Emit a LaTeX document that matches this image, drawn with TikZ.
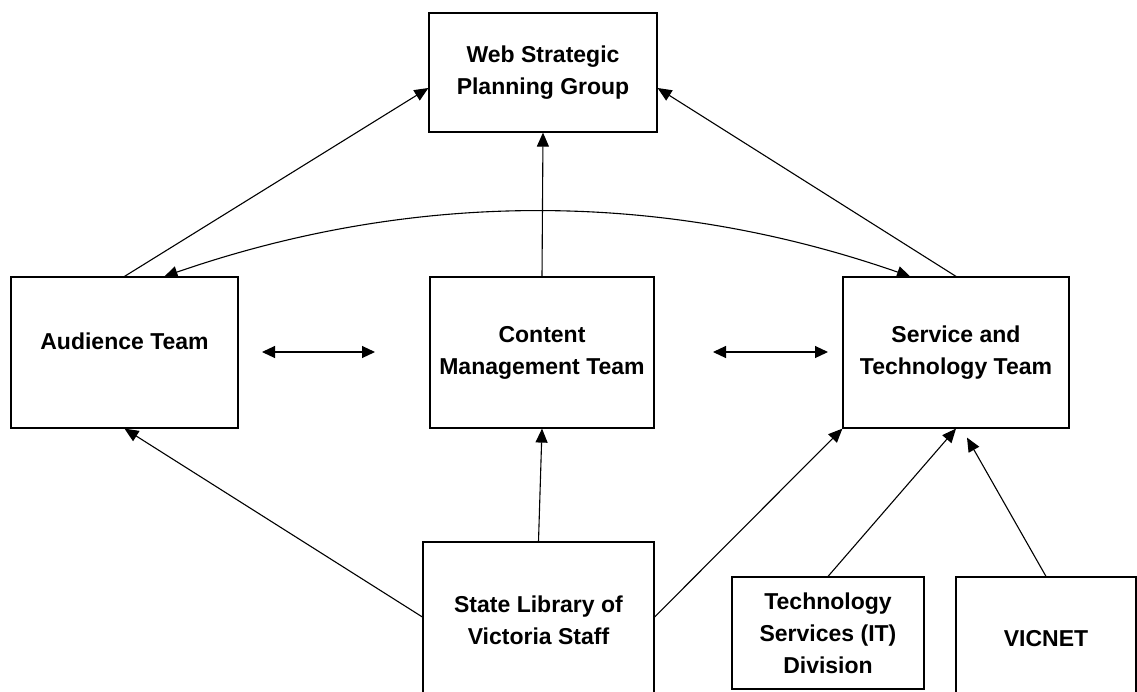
\documentclass[tikz,border=0pt]{standalone}
\usepackage{fontspec}
\setmainfont{Liberation Sans}
\usetikzlibrary{arrows.meta}
\begin{document}
\begin{tikzpicture}[x=1pt,y=-1pt,
  box/.style={draw, line width=1.2pt, rectangle, inner sep=0pt, align=center,
    font=\bfseries\fontsize{23}{32}\selectfont},
  conn/.style={line width=1.1pt, -{Triangle[length=14pt,width=12pt]}},
  biconn/.style={line width=1.1pt, {Triangle[length=13pt,width=12pt]}-{Triangle[length=13pt,width=12pt]}}]
\useasboundingbox (0,0) rectangle (1137,691);
\node[box, minimum width=228pt, minimum height=119pt] (web) at (543,72.5) {Web Strategic\\Planning Group};
\node[box, minimum width=227pt, minimum height=151pt, text depth=22pt] (aud) at (124.5,352.5) {Audience Team};
\node[box, minimum width=224pt, minimum height=151pt] (cmt) at (542,352.5) {Content\\Management Team};
\node[box, minimum width=226pt, minimum height=151pt] (srv) at (956,352.5) {Service and\\Technology Team};
\node[box, minimum width=231pt, minimum height=156pt] (sl) at (538.5,620) {State Library of\\Victoria Staff};
\node[box, minimum width=192pt, minimum height=112pt] (tech) at (828,633) {Technology\\Services (IT)\\Division};
\node[box, minimum width=180pt, minimum height=123pt] (vic) at (1046,638.5) {VICNET};
% free ends of the two double arrows
\coordinate (d1a) at (262,352);
\coordinate (d1b) at (375,352);
\coordinate (d2a) at (713,352);
\coordinate (d2b) at (828,352);
% connectors
\draw[conn] (aud.north) -- ([yshift=-15.5pt]web.west);
\draw[conn] (srv.north) -- ([yshift=-15.5pt]web.east);
\draw[conn] (cmt.north) -- (web.south);
\draw[biconn] ([xshift=40pt]aud.north) .. controls (414,190) and (662,190) .. ([xshift=-46pt]srv.north);
\draw[biconn] (d1a) -- (d1b);
\draw[biconn] (d2a) -- (d2b);
\draw[conn] ([yshift=3pt]sl.west) -- (aud.south);
\draw[conn] (sl.north) -- (cmt.south);
\draw[conn] ([yshift=3pt]sl.east) -- (srv.south west);
\draw[conn] (tech.north) -- (srv.south);
\draw[conn] (vic.north) -- ([xshift=11pt,yshift=-9pt]srv.south);
\end{tikzpicture}
\end{document}
